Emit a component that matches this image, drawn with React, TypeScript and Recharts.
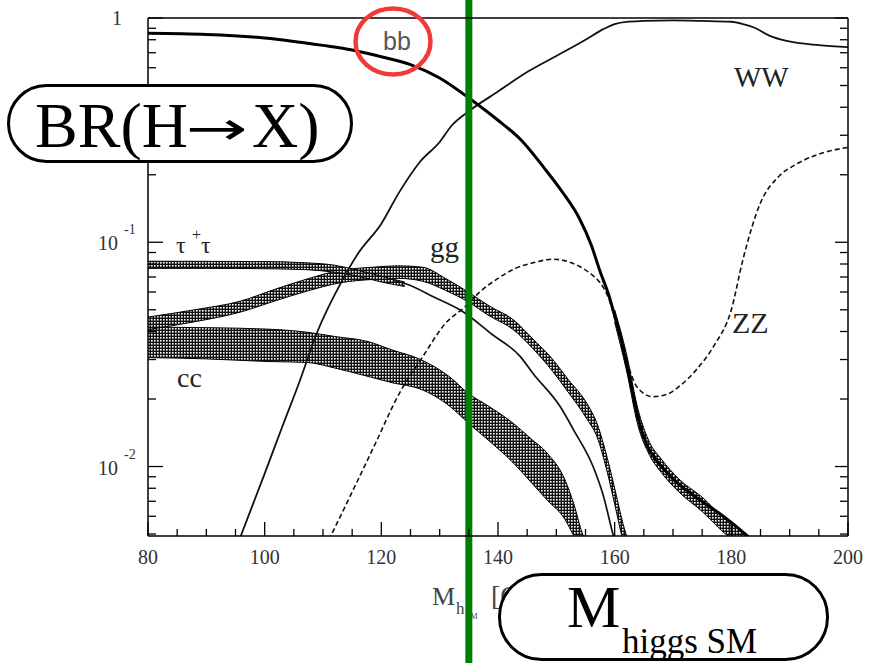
import { Area, ComposedChart, Line, ReferenceLine, XAxis, YAxis } from "recharts";

// H -> bb
const bbMass = [80, 90, 100, 110, 115, 120, 125, 130, 135, 140, 144, 148, 151, 154, 156, 157.5, 159, 160, 161, 162, 163, 164, 165.5, 167.5, 170, 173, 176, 179, 182, 184];
const bbBR = [0.855, 0.845, 0.815, 0.755, 0.72, 0.672, 0.62, 0.54, 0.44, 0.35, 0.285, 0.213, 0.168, 0.127, 0.097, 0.074, 0.058, 0.047, 0.038, 0.029, 0.022, 0.0165, 0.0125, 0.0104, 0.0088, 0.0076, 0.0067, 0.0059, 0.0051, 0.0046];
const bbBandMass = [160, 162, 164, 166, 168, 171, 175, 179, 182, 185];
const bbBandHi = [0.05, 0.032, 0.018, 0.0128, 0.0108, 0.0088, 0.0073, 0.0058, 0.0051, 0.0045];
const bbBandLo = [0.044, 0.027, 0.0152, 0.0112, 0.0094, 0.0077, 0.0063, 0.005, 0.0044, 0.0039];

// H -> WW
const wwMass = [95.5, 98, 100, 103, 106, 109, 113.4, 116, 120, 123, 126.6, 130, 132, 135, 140, 145, 150, 155, 158, 160, 162, 165, 170, 175, 180, 182, 184, 186.5, 189.5, 195, 200];
const wwBR = [0.0046, 0.0068, 0.0093, 0.015, 0.024, 0.0397, 0.0683, 0.089, 0.121, 0.166, 0.228, 0.28, 0.33, 0.384, 0.47, 0.574, 0.677, 0.8, 0.89, 0.94, 0.962, 0.97, 0.975, 0.97, 0.962, 0.94, 0.905, 0.835, 0.79, 0.757, 0.742];

// H -> ZZ
const zzMass = [111, 115, 119, 123, 127, 131, 134.5, 137, 140, 143, 146, 149.5, 152, 154, 156, 157.5, 159, 160.4, 162, 163.8, 166.5, 169, 171, 174, 177, 180, 182, 185, 188, 191, 194, 200];
const zzBR = [0.0047, 0.0077, 0.0127, 0.021, 0.0306, 0.0435, 0.052, 0.0604, 0.069, 0.0765, 0.081, 0.084, 0.082, 0.078, 0.072, 0.066, 0.056, 0.042, 0.03, 0.0227, 0.0205, 0.021, 0.0227, 0.027, 0.0345, 0.05, 0.084, 0.15, 0.195, 0.222, 0.242, 0.265];

// H -> tau tau
const tauBandMass = [80, 90, 100, 107, 112, 116, 120, 124];
const tauBandHi = [0.0823, 0.0822, 0.082, 0.081, 0.079, 0.075, 0.0705, 0.0665];
const tauBandLo = [0.0765, 0.0765, 0.0762, 0.0755, 0.0735, 0.0705, 0.0665, 0.0635];
const tauMass = [122, 124.4, 129, 134, 139, 143.8, 146, 150.6, 153, 156.3, 158, 159.7, 161];
const tauBR = [0.0675, 0.065, 0.057, 0.049, 0.0388, 0.031, 0.026, 0.0186, 0.0145, 0.01, 0.0075, 0.005, 0.0038];

// H -> gg
const ggMass = [80, 88, 95.8, 102, 107.3, 113, 118.6, 123, 127.1, 131, 134.7, 138.5, 142.6, 146, 149.4, 152, 155.3, 157, 158.7, 160, 161.4, 162.5];
const ggHi = [0.0464, 0.05, 0.0546, 0.062, 0.0686, 0.075, 0.0774, 0.0785, 0.0774, 0.069, 0.0604, 0.052, 0.0452, 0.037, 0.03, 0.0245, 0.019, 0.0155, 0.011, 0.008, 0.0056, 0.0045];
const ggLo = [0.0408, 0.0442, 0.0488, 0.055, 0.0606, 0.066, 0.0683, 0.069, 0.067, 0.061, 0.0546, 0.047, 0.0408, 0.0335, 0.0265, 0.0215, 0.0162, 0.0135, 0.0095, 0.0068, 0.0047, 0.0038];

// H -> cc
const ccMass = [80, 90, 100.4, 107.3, 112, 117.5, 122, 126.6, 131.8, 134.7, 138.5, 142.6, 145.5, 148.4, 151.5, 153, 154.5, 156];
const ccHi = [0.0418, 0.0416, 0.041, 0.0397, 0.038, 0.0362, 0.033, 0.0301, 0.025, 0.0214, 0.0185, 0.0156, 0.0134, 0.0115, 0.0087, 0.0068, 0.005, 0.0042];
const ccLo = [0.0306, 0.0302, 0.0294, 0.0291, 0.0275, 0.0253, 0.0236, 0.0222, 0.0185, 0.0158, 0.013, 0.0104, 0.0086, 0.0071, 0.0058, 0.0049, 0.0042, 0.0036];

const higgsMass = 135;

const xTicks = [80, 85, 90, 95, 100, 105, 110, 115, 120, 125, 130, 135, 140, 145, 150, 155, 160, 165, 170, 175, 180, 185, 190, 195, 200];
const yTicks = [0.005, 0.006, 0.007, 0.008, 0.009, 0.01, 0.02, 0.03, 0.04, 0.05, 0.06, 0.07, 0.08, 0.09, 0.1, 0.2, 0.3, 0.4, 0.5, 0.6, 0.7, 0.8, 0.9, 1];
const yMajor = [0.01, 0.1, 1];
const yExponent: Record<string, string> = { "0.01": "-2", "0.1": "-1" };

const line = (m: number[], v: number[]) => m.map((x, i) => ({ m: x, v: v[i] }));
const band = (m: number[], lo: number[], hi: number[]) => m.map((x, i) => ({ m: x, lo: lo[i], hi: hi[i] }));

const serif = "'Liberation Serif', 'Times New Roman', serif";
const tickColor = "#333";

function BottomTick({ x, y, payload }: any) {
  const v = payload.value;
  const major = v % 20 === 0;
  return (
    <g>
      <line x1={x} x2={x} y1={y} y2={y - (major ? 14 : 7)} stroke="#000" strokeWidth={1.3} />
      {major && (
        <text x={x} y={y + 28} textAnchor="middle" fontSize={20} fontFamily={serif} fill={tickColor}>
          {v}
        </text>
      )}
    </g>
  );
}

function TopTick({ x, y, payload }: any) {
  const major = payload.value % 20 === 0;
  return <line x1={x} x2={x} y1={y} y2={y + (major ? 12 : 7)} stroke="#000" strokeWidth={1.3} />;
}

function LeftTick({ x, y, payload }: any) {
  const v = payload.value;
  const major = yMajor.includes(v);
  const exp = yExponent[String(v)];
  return (
    <g>
      <line x1={x} x2={x + (major ? 15 : 8)} y1={y} y2={y} stroke="#000" strokeWidth={1.3} />
      {v === 1 && (
        <text x={x - 26} y={y + 7} textAnchor="end" fontSize={20} fontFamily={serif} fill={tickColor}>
          1
        </text>
      )}
      {exp && (
        <g fontFamily={serif} fill={tickColor}>
          <text x={x - 30} y={y + 8} textAnchor="end" fontSize={20}>
            10
          </text>
          <text x={x - 24} y={y - 8} fontSize={14}>
            {exp}
          </text>
        </g>
      )}
    </g>
  );
}

function RightTick({ x, y, payload }: any) {
  const major = yMajor.includes(payload.value);
  return <line x1={x} x2={x - (major ? 13 : 8)} y1={y} y2={y} stroke="#000" strokeWidth={1.3} />;
}

const layer: React.CSSProperties = { position: "absolute", left: 0, top: 0, width: 870, height: 663 };

export default function App() {
  const frame = { stroke: "#000", strokeWidth: 1.5 };
  const bandProps = {
    type: "monotone" as const,
    dataKey: (d: any) => [d.lo, d.hi],
    stroke: "#000",
    strokeWidth: 1,
    fill: "url(#checker)",
    fillOpacity: 1,
    dot: false,
    activeDot: false,
    isAnimationActive: false,
  };
  return (
    <div style={{ ...layer, background: "#fff", overflow: "hidden" }}>
      {/* axis title, partly hidden by the green line and the box */}
      <svg style={layer} width={870} height={663}>
        <g fontFamily={serif} fill="#444">
          <text x={432} y={605} fontSize={26}>M</text>
          <text x={456} y={614} fontSize={17}>h</text>
          <text x={466} y={619} fontSize={8}>SM</text>
          <text x={491} y={605} fontSize={28}>[GeV]</text>
        </g>
      </svg>

      <div style={layer}>
        <ComposedChart width={870} height={663} margin={{ top: 0, right: 0, bottom: 0, left: 0 }}>
          <defs>
            <pattern id="checker" width={3} height={3} patternUnits="userSpaceOnUse">
              <rect width={3} height={3} fill="#111" />
              <rect x={1} y={1} width={1.6} height={1.6} fill="#fff" />
            </pattern>
          </defs>
          <XAxis
            dataKey="m"
            type="number"
            domain={[80, 200]}
            ticks={xTicks}
            interval={0}
            height={127}
            tickSize={0}
            tickMargin={0}
            tick={BottomTick}
            axisLine={frame}
            allowDataOverflow
          />
          <XAxis
            xAxisId="top"
            orientation="top"
            dataKey="m"
            type="number"
            domain={[80, 200]}
            ticks={xTicks}
            interval={0}
            height={18}
            tickSize={0}
            tickMargin={0}
            tick={TopTick}
            axisLine={frame}
          />
          <YAxis
            scale="log"
            type="number"
            domain={[0.0049, 1]}
            ticks={yTicks}
            interval={0}
            width={148}
            tickSize={0}
            tickMargin={0}
            tick={LeftTick}
            axisLine={frame}
            allowDataOverflow
          />
          <YAxis
            yAxisId="right"
            orientation="right"
            scale="log"
            type="number"
            domain={[0.0049, 1]}
            ticks={yTicks}
            interval={0}
            width={22}
            tickSize={0}
            tickMargin={0}
            tick={RightTick}
            axisLine={frame}
            allowDataOverflow
          />

          <Area {...bandProps} data={band(ccMass, ccLo, ccHi)} />
          <Area {...bandProps} data={band(ggMass, ggLo, ggHi)} />
          <Area {...bandProps} data={band(tauBandMass, tauBandLo, tauBandHi)} />
          <Area {...bandProps} data={band(bbBandMass, bbBandLo, bbBandHi)} />

          <Line data={line(tauMass, tauBR)} dataKey="v" type="monotone" stroke="#111" strokeWidth={1.7} dot={false} isAnimationActive={false} />
          <Line data={line(wwMass, wwBR)} dataKey="v" type="monotone" stroke="#111" strokeWidth={1.8} dot={false} isAnimationActive={false} />
          <Line data={line(zzMass, zzBR)} dataKey="v" type="monotone" stroke="#111" strokeWidth={1.6} strokeDasharray="5 3" dot={false} isAnimationActive={false} />
          <Line data={line(bbMass, bbBR)} dataKey="v" type="monotone" stroke="#000" strokeWidth={3} dot={false} isAnimationActive={false} />

          <ReferenceLine
            segment={[
              { x: higgsMass, y: 1.25 },
              { x: higgsMass, y: 0.0013 },
            ]}
            stroke="#008000"
            strokeWidth={7}
            ifOverflow="visible"
          />
        </ComposedChart>
      </div>

      <svg style={layer} width={870} height={663}>
        {/* curve labels */}
        <text x={383} y={50} fontSize={25} fontFamily="'Liberation Sans', Arial, sans-serif" fill="#555">bb</text>
        <g fontFamily={serif} fill="#222">
          <text x={734} y={87} fontSize={29}>WW</text>
          <text x={732} y={333} fontSize={30}>ZZ</text>
          <text x={430} y={257} fontSize={29}>gg</text>
          <text x={177} y={387} fontSize={28}>cc</text>
          <text x={176} y={253} fontSize={24}>τ</text>
          <text x={192} y={240} fontSize={16}>+</text>
          <text x={201} y={253} fontSize={24}>τ</text>
        </g>

        <ellipse cx={393} cy={41.5} rx={37.5} ry={33} fill="none" stroke="#f03a3a" strokeWidth={4.5} />

        <rect x={8.5} y={85.5} width={343} height={76} rx={38} fill="#fff" stroke="#000" strokeWidth={3} />
        <g fontFamily={serif} fill="#000" fontSize={64}>
          <text x={35} y={147}>BR(H</text>
          <text x={186} y={144} fontSize={46} fontFamily="'DejaVu Sans', sans-serif" textLength={62} lengthAdjust="spacingAndGlyphs">
            →
          </text>
          <text x={252} y={147}>X)</text>
        </g>

        <rect x={499.5} y={574.5} width={328} height={85} rx={42} fill="#fff" stroke="#000" strokeWidth={3} />
        <text x={567} y={627} fontSize={60} fontFamily={serif} fill="#000">M</text>
        <text x={622} y={653} fontSize={35} fontFamily={serif} fill="#000">higgs SM</text>
      </svg>
    </div>
  );
}
